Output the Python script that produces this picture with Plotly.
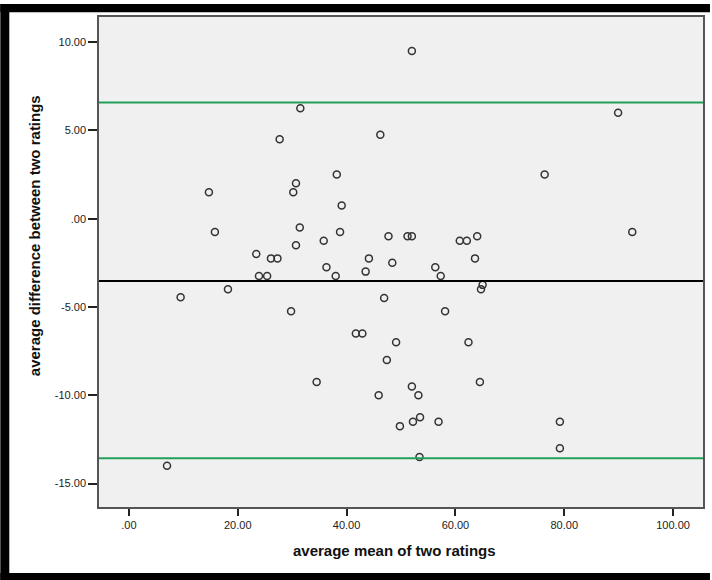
import plotly.graph_objects as go

# Bland-Altman data
mean_of_ratings = [7.0, 9.5, 14.7, 15.8, 18.2, 23.4, 23.9, 25.4, 26.1, 27.3,
                   27.7, 29.8, 30.2, 30.7, 30.7, 31.4, 31.5, 34.5, 35.8, 36.3,
                   38.0, 38.2, 38.8, 39.1, 41.7, 42.9, 43.5, 44.1, 45.9, 46.2,
                   46.9, 47.4, 47.7, 48.4, 49.1, 49.8, 51.2, 52.0, 52.0, 52.0,
                   52.2, 53.2, 53.4, 53.5, 56.3, 56.9, 57.3, 58.1, 60.8, 62.1,
                   62.4, 63.6, 64.0, 64.5, 64.7, 65.0, 76.4, 79.2, 79.2, 89.9,
                   92.5]
diff_of_ratings = [-14.0, -4.45, 1.5, -0.75, -4.0, -2.0, -3.25, -3.25, -2.25, -2.25,
                   4.5, -5.25, 1.5, 2.0, -1.5, -0.5, 6.25, -9.25, -1.25, -2.75,
                   -3.25, 2.5, -0.75, 0.75, -6.5, -6.5, -3.0, -2.25, -10.0, 4.75,
                   -4.5, -8.0, -1.0, -2.5, -7.0, -11.75, -1.0, -1.0, -9.5, 9.5,
                   -11.5, -10.0, -13.5, -11.25, -2.75, -11.5, -3.25, -5.25, -1.25, -1.25,
                   -7.0, -2.25, -1.0, -9.25, -4.0, -3.75, 2.5, -11.5, -13.0, 6.0,
                   -0.75]

mean_diff = -3.53
loa_upper = 6.58
loa_lower = -13.57

x_tick_vals = [0, 20, 40, 60, 80, 100]
x_tick_text = [".00", "20.00", "40.00", "60.00", "80.00", "100.00"]
y_tick_vals = [10, 5, 0, -5, -10, -15]
y_tick_text = ["10.00", "5.00", ".00", "-5.00", "-10.00", "-15.00"]

FONT = "Liberation Sans, Arial, sans-serif"

fig = go.Figure()
fig.add_trace(go.Scatter(
    x=mean_of_ratings, y=diff_of_ratings, mode="markers",
    marker=dict(symbol="circle-open", size=7, color="#333333",
                line=dict(width=1.5, color="#333333")),
    showlegend=False, hoverinfo="x+y"))

shapes = []
for yv, col in [(loa_upper, "#22a05a"), (loa_lower, "#22a05a"), (mean_diff, "#000000")]:
    shapes.append(dict(type="line", xref="paper", yref="y", x0=0, x1=1, y0=yv, y1=yv,
                       line=dict(color=col, width=2), layer="above"))

# outer black frame (px -> paper conversion)
L, R, T, B = 99, 705, 17, 507
W, H = R - L, B - T
def px_x(p):
    return (p - L) / W
def px_y(p):
    return (B - p) / H

frame = [
    (0, 4, 9, 580),      # left band
    (0, 4, 712, 12.3),   # top band
    (0, 573, 712, 580),  # bottom band
]
for x0, y0, x1, y1 in frame:
    shapes.append(dict(type="rect", xref="paper", yref="paper",
                       x0=px_x(x0), x1=px_x(x1), y0=px_y(y1), y1=px_y(y0),
                       fillcolor="#000000", line=dict(width=0), layer="above"))

fig.update_layout(
    width=712, height=580,
    margin=dict(l=L, r=712 - R, t=T, b=580 - B),
    paper_bgcolor="#ffffff", plot_bgcolor="#f0f0f0",
    font=dict(family=FONT, size=11, color="#222222"),
    shapes=shapes,
    annotations=[
        dict(text="average mean of two ratings", xref="paper", yref="paper",
             x=px_x(395), y=px_y(550), xanchor="center", yanchor="middle",
             showarrow=False, font=dict(family=FONT, size=15, color="#111111", weight="bold")),
        dict(text="average difference between two ratings", xref="paper", yref="paper",
             x=px_x(34), y=px_y(236), xanchor="center", yanchor="middle", textangle=-90,
             showarrow=False, font=dict(family=FONT, size=15, color="#111111", weight="bold")),
    ],
)
fig.update_xaxes(range=[-5.5, 105.5], tickvals=x_tick_vals, ticktext=x_tick_text,
                 ticks="outside", ticklen=7, tickwidth=1.5, tickcolor="#222222",
                 showgrid=False, zeroline=False, showline=True, linecolor="#555555",
                 linewidth=1.5, mirror=True, tickfont=dict(size=11, color="#222222"))
fig.update_yaxes(range=[-16.33, 11.42], tickvals=y_tick_vals, ticktext=y_tick_text,
                 ticks="outside", ticklen=9, tickwidth=1.5, tickcolor="#222222",
                 showgrid=False, zeroline=False, showline=True, linecolor="#555555",
                 linewidth=1.5, mirror=True, tickfont=dict(size=11, color="#222222"))

fig.write_html("out.html", config={"displayModeBar": False},
               post_script="document.body.style.margin='0';document.body.style.overflow='hidden';")
